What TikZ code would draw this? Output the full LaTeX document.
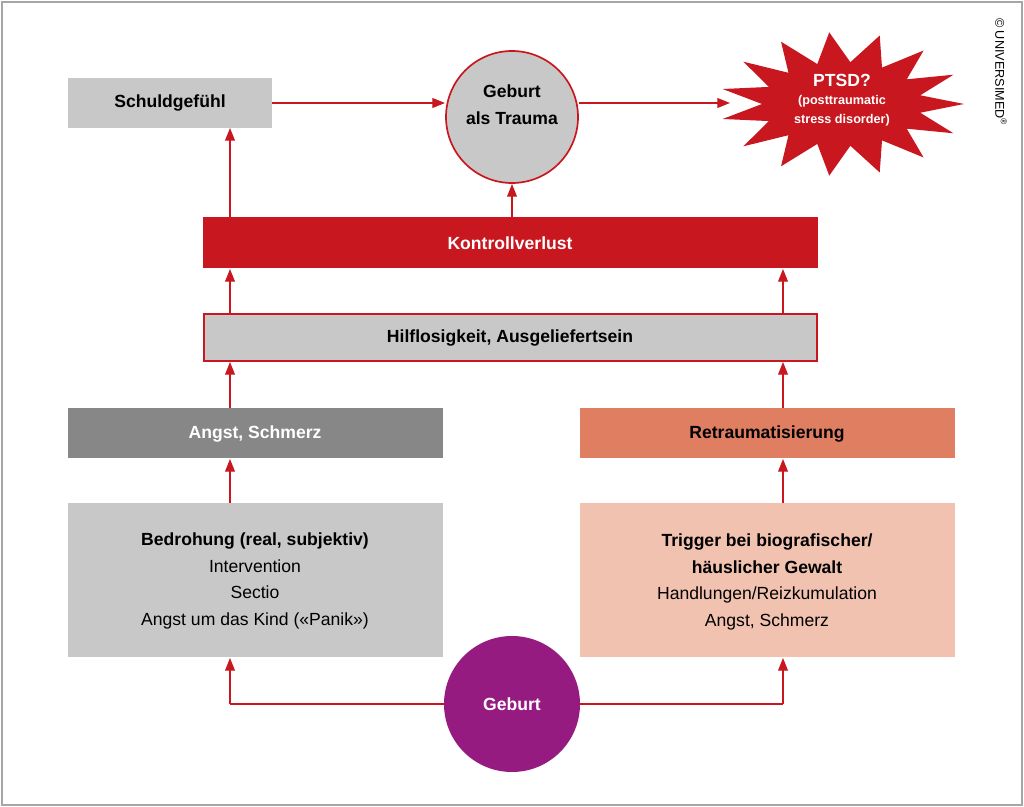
\documentclass[tikz,border=0pt]{standalone}
\usepackage{fontspec}
\setmainfont{Liberation Sans}
\usetikzlibrary{arrows.meta}
\definecolor{tred}{HTML}{C8171E}
\definecolor{lgray}{HTML}{C8C8C8}
\definecolor{dgray}{HTML}{878787}
\definecolor{salm}{HTML}{E07E62}
\definecolor{lsalm}{HTML}{F2C2B0}
\definecolor{purp}{HTML}{951B81}
\begin{document}
\begin{tikzpicture}[x=0.025cm,y=-0.025cm,
  every node/.style={font=\fontsize{12.5}{16}\selectfont,align=center},
  arr/.style={draw=tred,line width=0.8pt,-{Triangle[length=9pt,width=7pt]}},
  ln/.style={draw=tred,line width=0.8pt}]
\useasboundingbox (0,0) rectangle (1024,807);
\draw[gray!70,line width=0.8pt] (2,2) rectangle (1022,805);
% boxes
\fill[lgray] (68,78) rectangle (272,128);
\node (sch) at (170,103) {\textbf{Schuldgefühl}};
\coordinate (schR) at (272,103);
\coordinate (schB) at (230,128);
\draw[tred,fill=lgray,line width=1.2pt] (512,117) circle (66);
\node[font=\fontsize{12.5}{19}\selectfont] (trauma) at (512,105) {\textbf{Geburt}\\\textbf{als Trauma}};
\fill[tred] plot[samples at={0,...,29},variable=\k] ({842+cos(\k*12)*(mod(\k,2)==0 ? 122 : 80)},{104+sin(\k*12)*(mod(\k,2)==0 ? 72 : 42)}) -- cycle;
\node[text=white] (ptsd) at (842,100) {\textbf{PTSD?}\\[-3pt]{\fontsize{9}{11}\selectfont\textbf{(posttraumatic}}\\[-3pt]{\fontsize{9}{11}\selectfont\textbf{stress disorder)}}};
\fill[tred] (203,217) rectangle (818,268);
\node[text=white] (kv) at (510,243) {\textbf{Kontrollverlust}};
\draw[tred,fill=lgray,line width=1.2pt] (204,314) rectangle (817,361);
\node (hilf) at (510,338) {\textbf{Hilflosigkeit, Ausgeliefertsein}};
\fill[dgray] (68,408) rectangle (443,458);
\node[text=white] (angst) at (255,434) {\textbf{Angst, Schmerz}};
\fill[salm] (580,408) rectangle (955,458);
\node (retr) at (767,434) {\textbf{Retraumatisierung}};
\fill[lgray] (68,503) rectangle (443,657);
\node[font=\fontsize{12.5}{19}\selectfont] (bed) at (255,581) {\textbf{Bedrohung (real, subjektiv)}\\Intervention\\Sectio\\Angst um das Kind («Panik»)};
\fill[lsalm] (580,503) rectangle (955,657);
\node[font=\fontsize{12.5}{19}\selectfont] (trig) at (767,582) {\textbf{Trigger bei biografischer/}\\\textbf{häuslicher Gewalt}\\Handlungen/Reizkumulation\\Angst, Schmerz};
\fill[purp] (512,704) circle (68);
\node[text=white] (geb) at (512,704) {\textbf{Geburt}};
\node[rotate=-90,font=\fontsize{9}{10}\selectfont] (copy) at (1001,72) {© UNIVERSIMED\textsuperscript{®}};
% arrows
\coordinate (gl) at (444,704); \coordinate (gr) at (580,704);
\coordinate (l1) at (230,704); \coordinate (r1) at (783,704);
\draw[ln] (gl) -- (l1); \draw[arr] (l1) -- (230,658);
\draw[ln] (gr) -- (r1); \draw[arr] (r1) -- (783,658);
\draw[arr] (230,503) -- (230,459);
\draw[arr] (783,503) -- (783,459);
\draw[arr] (230,408) -- (230,362);
\draw[arr] (783,408) -- (783,362);
\draw[arr] (230,313) -- (230,269);
\draw[arr] (783,313) -- (783,269);
\draw[arr] (230,217) -- (schB);
\draw[arr] (512,217) -- (512,184);
\draw[arr] (schR) -- (445,103);
\draw[arr] (579,103) -- (730,103);
\end{tikzpicture}
\end{document}
